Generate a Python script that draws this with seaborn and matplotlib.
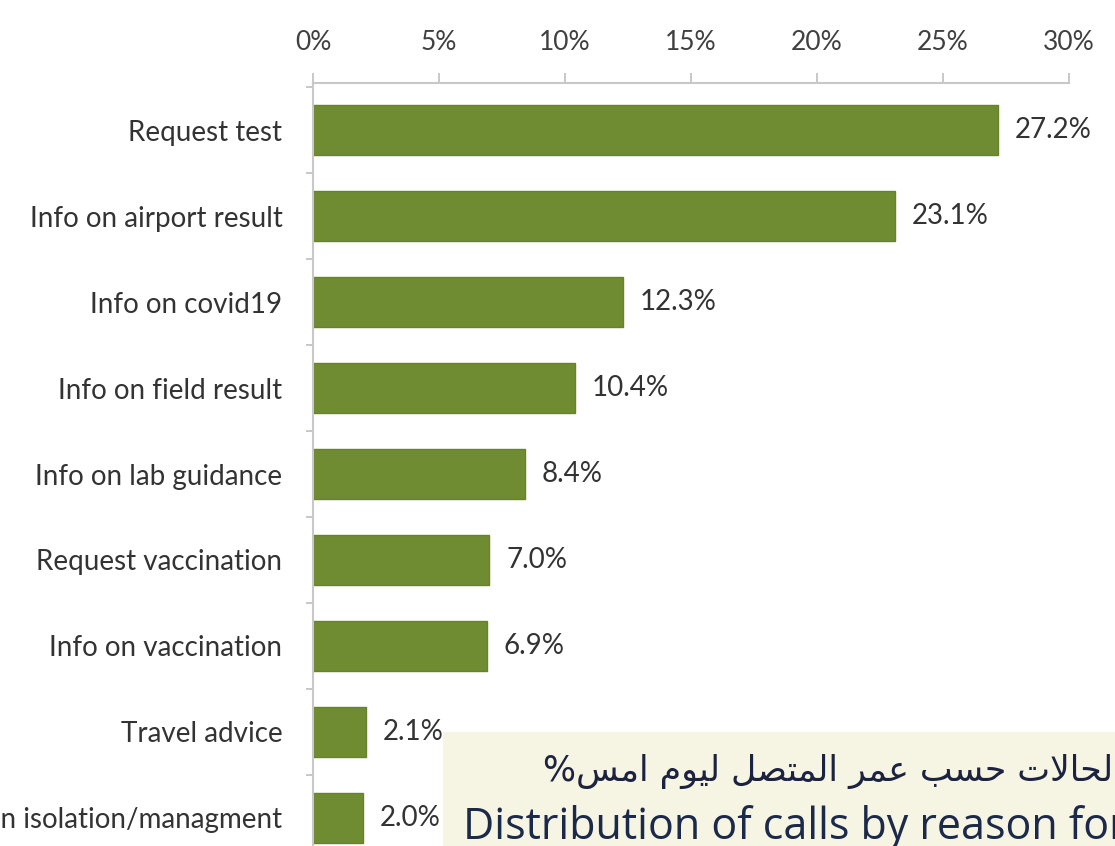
import matplotlib
matplotlib.use("Agg")
import matplotlib.pyplot as plt
import seaborn as sns
from matplotlib.patches import Rectangle
from matplotlib.ticker import FixedLocator

categories = ["Request test", "Info on airport result", "Info on covid19",
              "Info on field result", "Info on lab guidance", "Request vaccination",
              "Info on vaccination", "Travel advice", "Info on isolation/managment"]
values = [27.2, 23.1, 12.3, 10.4, 8.4, 7.0, 6.9, 2.1, 2.0]
xticks = [0, 5, 10, 15, 20, 25, 30]
xtick_labels = ["0%", "5%", "10%", "15%", "20%", "25%", "30%"]
title_ar = "توزيع الحالات حسب عمر المتصل ليوم امس%"
title_en = "Distribution of calls by reason for calling yesterday"

# --- minimal Arabic shaping (presentation forms) ---
FORMS = {
    'ا': ('\uFE8D', '\uFE8E', None, None),
    'ب': ('\uFE8F', '\uFE90', '\uFE91', '\uFE92'),
    'ت': ('\uFE95', '\uFE96', '\uFE97', '\uFE98'),
    'ة': ('\uFE93', '\uFE94', None, None),
    'ح': ('\uFEA1', '\uFEA2', '\uFEA3', '\uFEA4'),
    'ر': ('\uFEAD', '\uFEAE', None, None),
    'ز': ('\uFEAF', '\uFEB0', None, None),
    'س': ('\uFEB1', '\uFEB2', '\uFEB3', '\uFEB4'),
    'ص': ('\uFEB9', '\uFEBA', '\uFEBB', '\uFEBC'),
    'ع': ('\uFEC9', '\uFECA', '\uFECB', '\uFECC'),
    'ل': ('\uFEDD', '\uFEDE', '\uFEDF', '\uFEE0'),
    'م': ('\uFEE1', '\uFEE2', '\uFEE3', '\uFEE4'),
    'ن': ('\uFEE5', '\uFEE6', '\uFEE7', '\uFEE8'),
    'ه': ('\uFEE9', '\uFEEA', '\uFEEB', '\uFEEC'),
    'و': ('\uFEED', '\uFEEE', None, None),
    'ي': ('\uFEF1', '\uFEF2', '\uFEF3', '\uFEF4'),
    'LA': ('\uFEFB', '\uFEFC', None, None),
}


def shape_arabic(s):
    toks = []
    i = 0
    while i < len(s):
        if s[i] == 'ل' and i + 1 < len(s) and s[i + 1] == 'ا':
            toks.append('LA')
            i += 2
        else:
            toks.append(s[i])
            i += 1
    out = []
    for k, t in enumerate(toks):
        if t not in FORMS:
            out.append(t)
            continue
        f = FORMS[t]
        prev = toks[k - 1] if k > 0 else None
        nxt = toks[k + 1] if k + 1 < len(toks) else None
        cp = prev in FORMS and FORMS[prev][2] is not None
        cn = f[2] is not None and nxt in FORMS
        if cp and cn:
            out.append(f[3])
        elif cp:
            out.append(f[1])
        elif cn:
            out.append(f[2])
        else:
            out.append(f[0])
    return ''.join(reversed(out))


sns.set_theme(style="white")
plt.rcParams['font.family'] = ['Lato', 'DejaVu Sans']

W, H = 1115, 846
fig = plt.figure(figsize=(W / 100, H / 100), dpi=100)
fig.patch.set_facecolor('white')
ax = fig.add_axes([313 / W, 0, (1069 - 313) / W, 1 - 83 / H])

green = "#6f8c33"
sns.barplot(x=values, y=categories, orient='h', color=green, saturation=1,
            width=0.58, edgecolor="#66822d", linewidth=1, ax=ax)

ax.set_xlim(0, 30)
ax.set_ylim(8.326, -0.547)
ax.set_xlabel("")
ax.set_ylabel("")

ax.xaxis.tick_top()
ax.set_xticks(xticks)
ax.set_xticklabels(xtick_labels)
ax.tick_params(axis='x', which='major', direction='out', length=7, width=1.2,
               color='#bfbfbf', pad=13, labelsize=19, labelcolor='#404040',
               top=True, bottom=False)
ax.tick_params(axis='y', which='major', length=0, pad=22, labelsize=20,
               labelcolor='#333333', left=True)
ax.yaxis.set_minor_locator(FixedLocator([i + 0.5 for i in range(-1, 9)]))
ax.tick_params(axis='y', which='minor', direction='out', length=5, width=1.2,
               color='#bfbfbf', left=True)

for side in ['right', 'bottom']:
    ax.spines[side].set_visible(False)
for side in ['top', 'left']:
    ax.spines[side].set_visible(True)
    ax.spines[side].set_color('#c8c8c8')
    ax.spines[side].set_linewidth(1.5)

ax.bar_label(ax.containers[0], labels=[f"{v:.1f}%" for v in values],
             padding=12, fontsize=20, color='#333333')

# caption box at bottom right
box = Rectangle((443 / W, 0), 1 - 443 / W, (H - 732) / H, transform=fig.transFigure,
                facecolor='#f6f4e2', edgecolor='none', zorder=5)
fig.add_artist(box)
fig.text(543 / W, (H - 781) / H, shape_arabic(title_ar), family='DejaVu Sans',
         fontsize=25, color='#1c2340', ha='left', va='baseline', zorder=6)
fig.text(463 / W, (H - 839) / H, title_en, family=['Open Sans', 'DejaVu Sans'],
         fontsize=31, color='#1c2a4a', ha='left', va='baseline', zorder=6)

fig.savefig("out.png", dpi=100)
